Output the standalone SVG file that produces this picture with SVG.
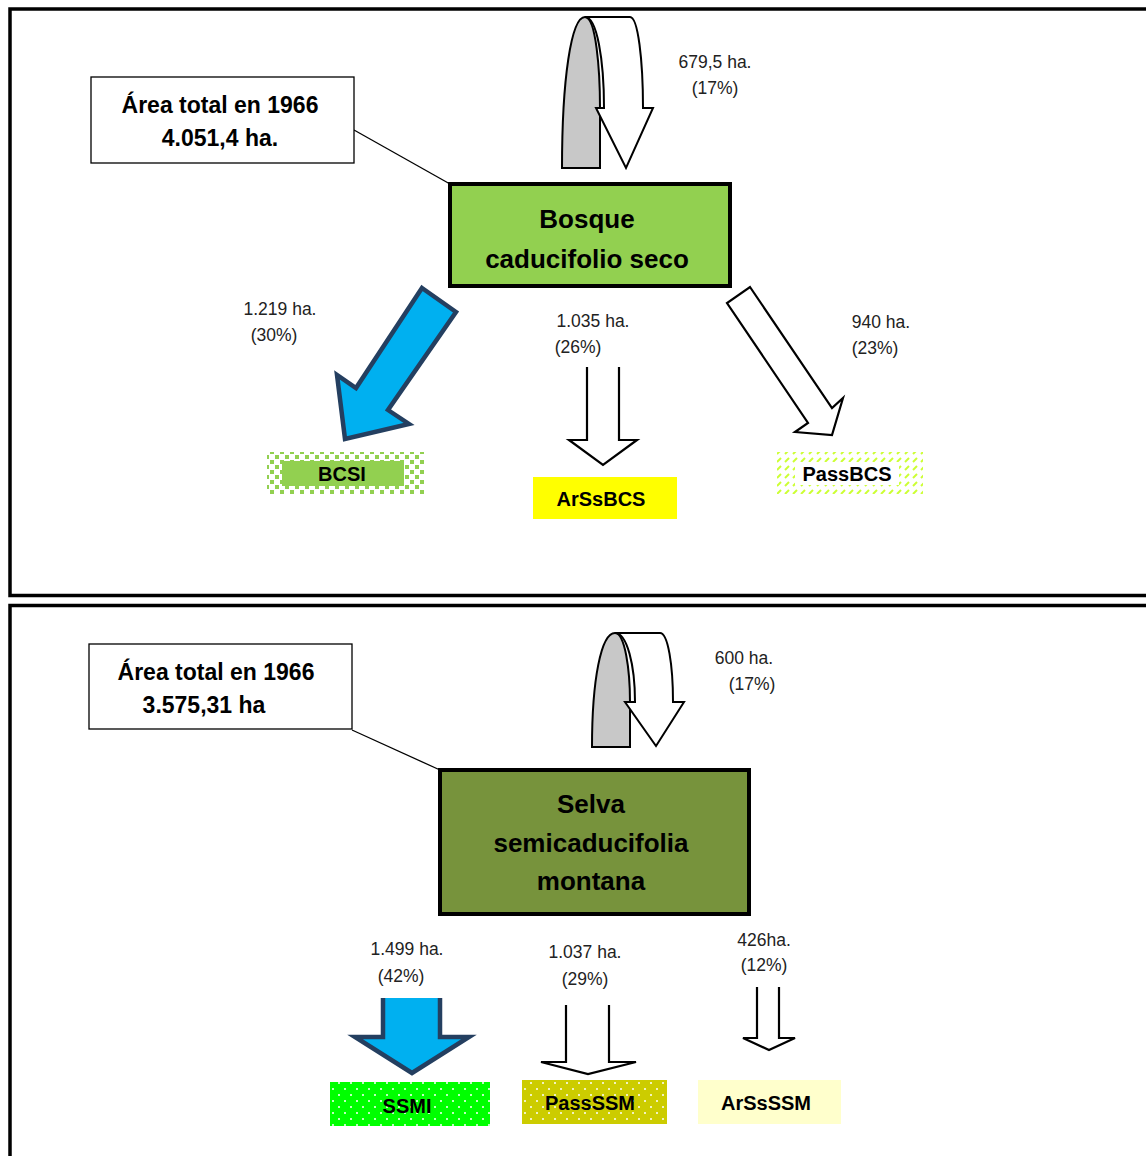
<svg xmlns="http://www.w3.org/2000/svg" width="1146" height="1156" viewBox="0 0 1146 1156">
<style>
.panel{fill:none;stroke:#000;stroke-width:3.5}
.info{fill:#fff;stroke:#000;stroke-width:1.3}
.main{stroke:#000;stroke-width:4}
.bt{font-family:"Liberation Sans",Arial,sans-serif;font-weight:bold;font-size:23px;fill:#000;text-anchor:middle}
.mt{font-family:"Liberation Sans",Arial,sans-serif;font-weight:bold;font-size:26px;fill:#000;text-anchor:middle}
.lt{font-family:"Liberation Sans",Arial,sans-serif;font-weight:bold;font-size:20px;fill:#000;text-anchor:middle}
.sm{font-family:"Liberation Sans",Arial,sans-serif;font-size:17.5px;fill:#222;text-anchor:middle}
.blue{fill:#00b0f0;stroke:#243f60;stroke-width:4.5;stroke-linejoin:miter}
.open{fill:#fff;stroke:#000;stroke-width:2.2}
.gray{fill:#c8c8c8;stroke:#000;stroke-width:2}
.white{fill:#fff;stroke:#000;stroke-width:2}
.conn{stroke:#000;stroke-width:1.3;fill:none}
</style>
<defs>
<pattern id="pGreenSq" width="10" height="10" patternUnits="userSpaceOnUse">
<rect width="10" height="10" fill="#fff"/>
<rect x="0" y="0" width="4" height="4" fill="#92d050"/>
<rect x="5" y="5" width="4" height="4" fill="#92d050"/>
</pattern>
<pattern id="pDiag" width="8" height="8" patternUnits="userSpaceOnUse">
<rect width="8" height="8" fill="#fff"/>
<line x1="1" y1="6" x2="5" y2="2" stroke="#ccff33" stroke-width="2"/>
</pattern>
<pattern id="pDotGreen" width="12" height="12" patternUnits="userSpaceOnUse">
<rect width="12" height="12" fill="#00ff00"/>
<circle cx="3" cy="3" r="1" fill="#fff"/>
<circle cx="9" cy="9" r="1" fill="#fff"/>
</pattern>
<pattern id="pDotOlive" width="12" height="12" patternUnits="userSpaceOnUse">
<rect width="12" height="12" fill="#cccc00"/>
<circle cx="3" cy="3" r="1" fill="#fff"/>
<circle cx="9" cy="9" r="1" fill="#fff"/>
</pattern>
</defs>
<rect width="1146" height="1156" fill="#fff"/>

<!-- panels -->
<rect class="panel" x="10" y="9" width="1150" height="586.5"/>
<rect class="panel" x="10" y="605.5" width="1150" height="570"/>

<!-- connectors -->
<g id="connectors">
<line class="conn" x1="354" y1="130" x2="450" y2="184"/>
<line class="conn" x1="352" y1="730" x2="440" y2="770"/>
<!-- top panel self loop -->
<path class="gray" d="M562,168 C562,80 571,17 585,17 C596,17 600,70 600,108 L600,168 Z"/>
<path class="white" d="M585,17 L630,17 C638,17 643,60 643,108 L653,108 L626,168 L596,108 L604,108 C604,60 597,17 585,17 Z"/>
<!-- top panel arrows -->
<path class="blue" d="M422,288 L456,312 L388,410 L409,424 L345,439 L337,375 L356,388 Z"/>
<path class="open" d="M587,367 L587,440 L569,440 L603,465 L637,440 L619,440 L619,367"/>
<path class="open" d="M750,287 L832,408 L843,398 L832,435 L795,432 L808,423 L727,303 Z"/>
<!-- bottom panel self loop -->
<path class="gray" d="M592,747 C592,680 601,633 615,633 C625,633 630,670 630,702 L630,747 Z"/>
<path class="white" d="M615,633 L660,633 C668,633 673,665 673,702 L684,702 L656,746 L625,702 L635,702 C635,665 627,633 615,633 Z"/>
<!-- bottom panel arrows -->
<path class="blue" d="M383,998 L383,1037 L355,1037 L412,1073 L469,1037 L440,1037 L440,998"/>
<path class="open" d="M566,1005 L566,1062 L541,1062 L588,1074 L636,1062 L609,1062 L609,1005"/>
<path class="open" d="M757,987 L757,1038 L743,1038 L769,1050 L795,1038 L779,1038 L779,987"/>
</g>

<!-- labels -->
<g id="labels">
<text class="sm" x="715" y="68">679,5 ha.</text>
<text class="sm" x="715" y="94">(17%)</text>
<text class="sm" x="280" y="315">1.219 ha.</text>
<text class="sm" x="274" y="341">(30%)</text>
<text class="sm" x="593" y="327">1.035 ha.</text>
<text class="sm" x="578" y="353">(26%)</text>
<text class="sm" x="881" y="328">940 ha.</text>
<text class="sm" x="875" y="354">(23%)</text>
<text class="sm" x="744" y="664">600 ha.</text>
<text class="sm" x="752" y="690">(17%)</text>
<text class="sm" x="407" y="955">1.499 ha.</text>
<text class="sm" x="401" y="982">(42%)</text>
<text class="sm" x="585" y="958">1.037 ha.</text>
<text class="sm" x="585" y="985">(29%)</text>
<text class="sm" x="764" y="946">426ha.</text>
<text class="sm" x="764" y="971">(12%)</text>
</g>

<!-- top panel nodes -->
<g id="area1966-a">
<rect class="info" x="91" y="77" width="263" height="86"/>
<text class="bt" x="220" y="113">Área total en 1966</text>
<text class="bt" x="220" y="146">4.051,4 ha.</text>
</g>
<g id="bcs">
<rect class="main" x="450" y="184" width="280" height="102" fill="#92d050"/>
<text class="mt" x="587" y="228">Bosque</text>
<text class="mt" x="587" y="268">caducifolio seco</text>
</g>
<g id="bcsi">
<rect x="267" y="452" width="157" height="42" fill="url(#pGreenSq)"/>
<rect x="282" y="461" width="122" height="25" fill="#92d050"/>
<text class="lt" x="342" y="481">BCSI</text>
</g>
<g id="arssbcs">
<rect x="533" y="477" width="144" height="42" fill="#ffff00"/>
<text class="lt" x="601" y="506">ArSsBCS</text>
</g>
<g id="passbcs">
<rect x="777" y="452" width="146" height="42" fill="url(#pDiag)"/>
<rect x="795" y="462" width="104" height="23" fill="#fff"/>
<text class="lt" x="847" y="481">PassBCS</text>
</g>

<!-- bottom panel nodes -->
<g id="area1966-b">
<rect class="info" x="89" y="644" width="263" height="85"/>
<text class="bt" x="216" y="680">Área total en 1966</text>
<text class="bt" x="204" y="713">3.575,31 ha</text>
</g>
<g id="ssm">
<rect class="main" x="440" y="770" width="309" height="144" fill="#77933c"/>
<text class="mt" x="591" y="813">Selva</text>
<text class="mt" x="591" y="852">semicaducifolia</text>
<text class="mt" x="591" y="890">montana</text>
</g>
<g id="ssmi">
<rect x="330" y="1082" width="160" height="44" fill="url(#pDotGreen)"/>
<text class="lt" x="407" y="1113">SSMI</text>
</g>
<g id="passssm">
<rect x="522" y="1080" width="145" height="44" fill="url(#pDotOlive)"/>
<text class="lt" x="590" y="1110">PassSSM</text>
</g>
<g id="arssssm">
<rect x="698" y="1080" width="143" height="44" fill="#ffffcc"/>
<text class="lt" x="766" y="1110">ArSsSSM</text>
</g>
</svg>
